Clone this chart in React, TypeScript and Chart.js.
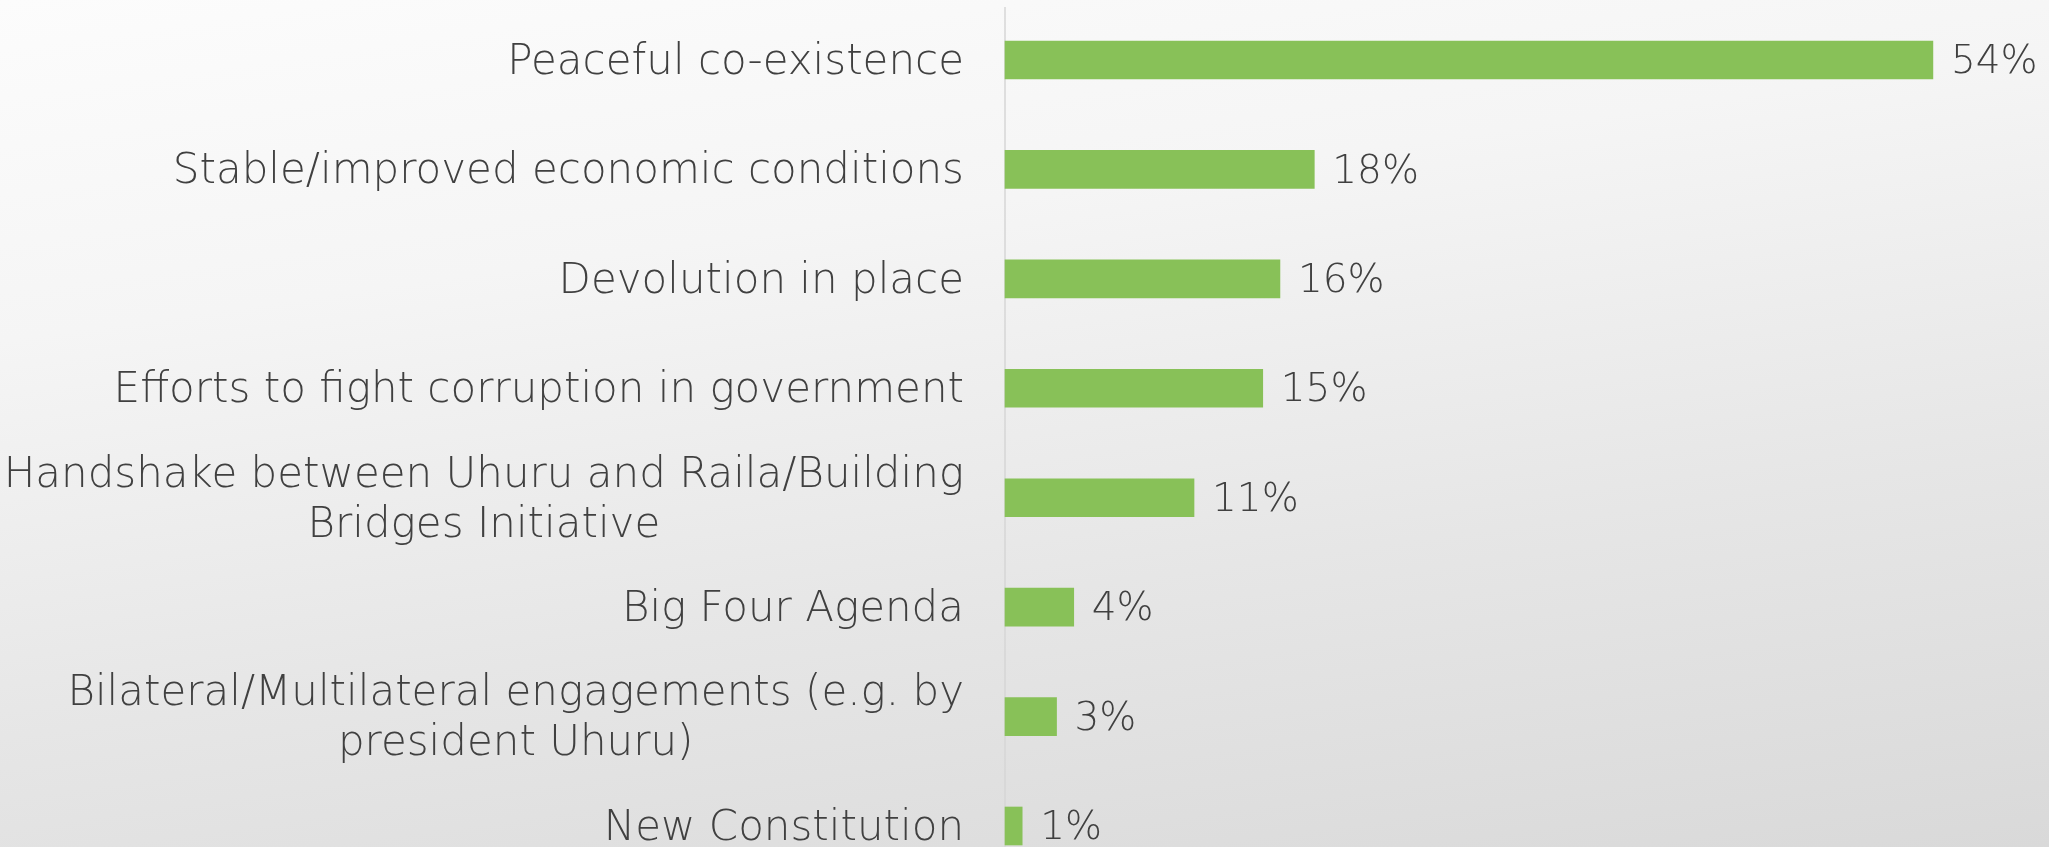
import { useEffect, useRef } from "react";
import { Chart, registerables } from "chart.js";

Chart.register(...registerables);

const categories: (string | string[])[] = [
  "Peaceful co-existence",
  "Stable/improved economic conditions",
  "Devolution in place",
  "Efforts to fight corruption in government",
  ["Handshake between Uhuru and Raila/Building", "Bridges Initiative"],
  "Big Four Agenda",
  ["Bilateral/Multilateral engagements (e.g. by", "president Uhuru)"],
  "New Constitution",
];

const values = [54, 18, 16, 15, 11, 4, 3, 1];

const xMin = 0;
const xMax = 60;

const FONT_FAMILY = '"DejaVu Sans", sans-serif';
const FONT_SIZE = 42;
const VALUE_FONT_SIZE = 39;
const FONT_WEIGHT = "200";
const TEXT_COLOR = "#404040";
const BAR_COLOR = "#88c158";

export default function App() {
  const ref = useRef<HTMLCanvasElement>(null);

  useEffect(() => {
    document.body.style.margin = "0";
    const canvas = ref.current!;

    const labelPlugin = {
      id: "customLabels",
      beforeDatasetsDraw(chart: any) {
        const ctx = chart.ctx;
        const xs = chart.scales.x;
        const ys = chart.scales.y;
        const x0 = xs.getPixelForValue(0);
        ctx.save();
        ctx.strokeStyle = "#d6d6d6";
        ctx.lineWidth = 1.5;
        ctx.beginPath();
        ctx.moveTo(x0, 7);
        ctx.lineTo(x0, chart.height);
        ctx.stroke();

        ctx.font = `${FONT_WEIGHT} ${FONT_SIZE}px ${FONT_FAMILY}`;
        ctx.fillStyle = TEXT_COLOR;
        ctx.textBaseline = "middle";
        ctx.textAlign = "center";
        const right = x0 - 41;
        const lineH = 50;
        categories.forEach((cat, i) => {
          const lines = Array.isArray(cat) ? cat : [cat];
          const widths = lines.map((l) => ctx.measureText(l).width);
          const maxW = Math.max(...widths);
          const cx = right - maxW / 2;
          const cy = ys.getPixelForValue(i) + 3;
          const startY = cy - ((lines.length - 1) * lineH) / 2;
          lines.forEach((l, j) => {
            ctx.fillText(l, cx, startY + j * lineH);
          });
        });
        ctx.restore();
      },
      afterDatasetsDraw(chart: any) {
        const ctx = chart.ctx;
        const meta = chart.getDatasetMeta(0);
        ctx.save();
        ctx.font = `${FONT_WEIGHT} ${VALUE_FONT_SIZE}px ${FONT_FAMILY}`;
        ctx.fillStyle = TEXT_COLOR;
        ctx.textBaseline = "middle";
        ctx.textAlign = "left";
        meta.data.forEach((bar: any, i: number) => {
          ctx.fillText(`${values[i]}%`, bar.x + 18, bar.y + 3);
        });
        ctx.restore();
      },
    };

    const chart = new Chart(canvas, {
      type: "bar",
      data: {
        labels: categories as any,
        datasets: [
          {
            data: values,
            backgroundColor: BAR_COLOR,
            borderWidth: 0,
            barThickness: 38,
            clip: false as any,
          },
        ],
      },
      options: {
        indexAxis: "y",
        responsive: false,
        animation: false,
        layout: { padding: { left: 1005, right: 13, top: 60, bottom: 21 } },
        plugins: {
          legend: { display: false },
          tooltip: { enabled: false },
        },
        scales: {
          x: { display: false, min: xMin, max: xMax },
          y: { display: false, offset: false },
        },
      },
      plugins: [labelPlugin],
    });
    return () => chart.destroy();
  }, []);

  return (
    <div
      style={{
        position: "fixed",
        left: 0,
        top: 0,
        width: 2049,
        height: 847,
        background:
          "linear-gradient(172deg, #fcfcfc 0%, #f5f5f5 30%, #e6e6e6 65%, #d9d9d9 100%)",
      }}
    >
      <canvas ref={ref} width={2049} height={847} style={{ display: "block" }} />
    </div>
  );
}
